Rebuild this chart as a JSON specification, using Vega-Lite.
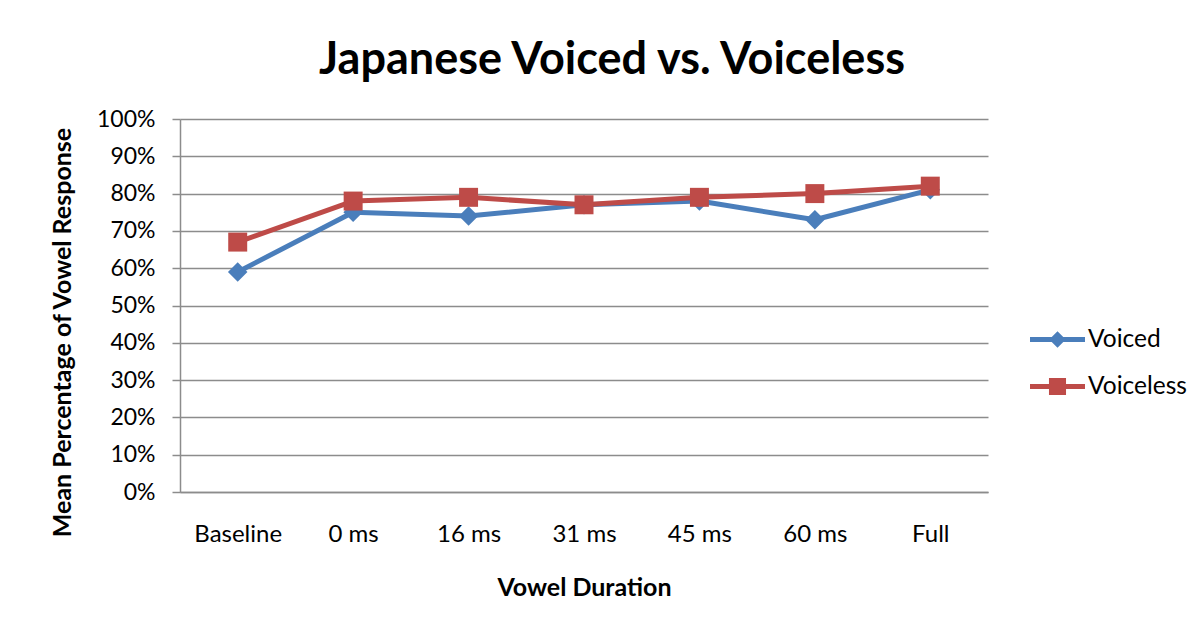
{
  "$schema": "https://vega.github.io/schema/vega-lite/v6.json",
  "width": 808,
  "height": 373,
  "autosize": {"type": "none"},
  "padding": {"left": 180, "top": 119, "right": 216, "bottom": 138},
  "background": "#ffffff",
  "title": {
    "text": "Japanese Voiced vs. Voiceless",
    "font": "Lato",
    "fontSize": 45,
    "fontWeight": "bold",
    "color": "#000000",
    "anchor": "middle",
    "frame": "group",
    "dx": 28,
    "offset": 25
  },
  "data": {
    "values": [
      {"duration": "Baseline", "series": "Voiced", "pct": 0.59},
      {"duration": "0 ms", "series": "Voiced", "pct": 0.75},
      {"duration": "16 ms", "series": "Voiced", "pct": 0.74},
      {"duration": "31 ms", "series": "Voiced", "pct": 0.77},
      {"duration": "45 ms", "series": "Voiced", "pct": 0.78},
      {"duration": "60 ms", "series": "Voiced", "pct": 0.73},
      {"duration": "Full", "series": "Voiced", "pct": 0.81},
      {"duration": "Baseline", "series": "Voiceless", "pct": 0.67},
      {"duration": "0 ms", "series": "Voiceless", "pct": 0.78},
      {"duration": "16 ms", "series": "Voiceless", "pct": 0.79},
      {"duration": "31 ms", "series": "Voiceless", "pct": 0.77},
      {"duration": "45 ms", "series": "Voiceless", "pct": 0.79},
      {"duration": "60 ms", "series": "Voiceless", "pct": 0.80},
      {"duration": "Full", "series": "Voiceless", "pct": 0.82}
    ]
  },
  "encoding": {
    "x": {
      "field": "duration",
      "type": "ordinal",
      "scale": {
        "type": "point",
        "padding": 0.5,
        "domain": ["Baseline", "0 ms", "16 ms", "31 ms", "45 ms", "60 ms", "Full"]
      },
      "axis": {
        "title": "Vowel Duration",
        "labelAngle": 0,
        "ticks": false,
        "tickSize": 0,
        "labelFontSize": 24,
        "labelPadding": 49,
        "labelBaseline": "alphabetic",
        "titleY": 95,
        "titleBaseline": "middle",
        "grid": false
      }
    },
    "y": {
      "field": "pct",
      "type": "quantitative",
      "scale": {"domain": [0, 1], "nice": false, "zero": true},
      "axis": {
        "title": "Mean Percentage of Vowel Response",
        "values": [0, 0.1, 0.2, 0.3, 0.4, 0.5, 0.6, 0.7, 0.8, 0.9, 1],
        "format": ".0%",
        "ticks": true,
        "tickSize": 8,
        "labelFontSize": 23,
        "labelPadding": 17,
        "grid": true,
        "titleX": -118,
        "titleY": 213,
        "titleAngle": 270,
        "titleAlign": "center",
        "titleBaseline": "middle"
      }
    }
  },
  "layer": [
    {
      "transform": [{"filter": "datum.series === 'Voiced'"}],
      "mark": {"type": "line", "color": "#4a7ebb", "strokeWidth": 5, "strokeJoin": "round", "strokeCap": "round"}
    },
    {
      "transform": [{"filter": "datum.series === 'Voiced'"}],
      "mark": {"type": "point", "shape": "diamond", "size": 380, "filled": true, "opacity": 1, "color": "#4a7ebb"}
    },
    {
      "transform": [{"filter": "datum.series === 'Voiceless'"}],
      "mark": {"type": "line", "color": "#be4b48", "strokeWidth": 5, "strokeJoin": "round", "strokeCap": "round"}
    },
    {
      "transform": [{"filter": "datum.series === 'Voiceless'"}],
      "mark": {"type": "point", "shape": "square", "size": 360, "filled": true, "opacity": 1, "color": "#be4b48"}
    },
    {
      "mark": {"type": "point", "filled": true, "opacity": 0},
      "encoding": {
        "color": {
          "field": "series",
          "type": "nominal",
          "scale": {"domain": ["Voiced", "Voiceless"], "range": ["#4a7ebb", "#be4b48"]},
          "legend": {
            "title": null,
            "orient": "none",
            "legendX": 850,
            "legendY": 193,
            "padding": 0,
            "symbolSize": 3025,
            "symbolOpacity": 1,
            "symbolStrokeWidth": 0,
            "labelOffset": 3,
            "rowPadding": 8,
            "labelFont": "Lato",
            "labelFontSize": 24.5,
            "labelColor": "#000000"
          }
        },
        "shape": {
          "field": "series",
          "type": "nominal",
          "scale": {
            "domain": ["Voiced", "Voiceless"],
            "range": [
              "M-1,-0.09L1,-0.09L1,0.09L-1,0.09Z M0,-0.3L0.3,0L0,0.3L-0.3,0Z",
              "M-1,-0.09L1,-0.09L1,0.09L-1,0.09Z M-0.31,-0.31L0.31,-0.31L0.31,0.31L-0.31,0.31Z"
            ]
          },
          "legend": {
            "title": null,
            "orient": "none",
            "legendX": 850,
            "legendY": 193,
            "padding": 0,
            "symbolSize": 3025,
            "symbolOpacity": 1,
            "symbolStrokeWidth": 0,
            "labelOffset": 3,
            "rowPadding": 8,
            "labelFont": "Lato",
            "labelFontSize": 24.5,
            "labelColor": "#000000"
          }
        }
      }
    }
  ],
  "config": {
    "view": {"stroke": null},
    "font": "Lato",
    "axis": {
      "labelFont": "Lato",
      "labelColor": "#000000",
      "titleFont": "Lato",
      "titleFontSize": 25,
      "titleFontWeight": "bold",
      "titleColor": "#000000",
      "domainColor": "#8c8c8c",
      "domainWidth": 1.5,
      "tickColor": "#8c8c8c",
      "tickWidth": 1.5,
      "gridColor": "#8c8c8c",
      "gridWidth": 1.3
    }
  }
}
